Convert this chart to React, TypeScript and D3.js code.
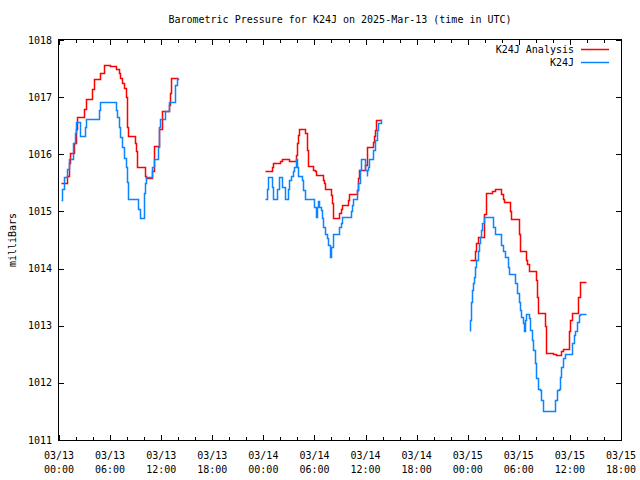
import React from "react";
import * as d3 from "d3";

const title = "Barometric Pressure for K24J on 2025-Mar-13 (time in UTC)";
const yAxisLabel = "milliBars";
const seriesNames = ["K24J Analysis", "K24J"];
const seriesColors = ["#ff0000", "#0a84ff"];
const startTime = "2025-03-13T00:00:00Z";
const endTime = "2025-03-15T18:00:00Z";
const yTicks = [1011, 1012, 1013, 1014, 1015, 1016, 1017, 1018];

// [hours since 03/13 00:00 UTC, millibars]
const analysisSeg1: [number, number][] = [
  [0.25, 1015.49], [0.96, 1015.62], [1.15, 1015.85], [1.27, 1016.03], [1.74, 1016.2],
  [1.95, 1016.45], [2.13, 1016.65], [2.91, 1016.8], [3.18, 1016.96], [3.89, 1017.14],
  [4.16, 1017.31], [4.87, 1017.42], [5.26, 1017.56], [6.0, 1017.54], [6.75, 1017.49],
  [7.03, 1017.42], [7.22, 1017.33], [7.42, 1017.24], [7.62, 1017.16], [7.81, 1017.1],
  [7.92, 1017.01], [7.99, 1016.48], [8.07, 1016.32], [8.97, 1016.2], [9.05, 1016.05],
  [9.16, 1015.77], [10.06, 1015.62], [10.26, 1015.59], [10.92, 1015.7], [11.1, 1016.15],
  [11.78, 1016.45], [12.05, 1016.76], [12.88, 1016.86], [13.05, 1017.07], [13.19, 1017.34],
  [13.93, 1017.34],
];
const analysisSeg2: [number, number][] = [
  [24.21, 1015.7], [24.99, 1015.78], [25.18, 1015.84], [25.97, 1015.88], [26.16, 1015.91],
  [27.06, 1015.89], [27.84, 1015.99], [27.92, 1016.19], [28.12, 1016.34], [28.23, 1016.45],
  [28.9, 1016.37], [29.1, 1016.19], [29.17, 1016.08], [29.29, 1015.8], [29.87, 1015.73],
  [30.07, 1015.7], [30.19, 1015.64], [30.97, 1015.55], [31.13, 1015.49], [31.24, 1015.4],
  [31.91, 1015.29], [32.03, 1015.14], [32.15, 1014.88], [32.92, 1014.97], [33.08, 1015.04],
  [33.27, 1015.11], [33.9, 1015.2], [34.09, 1015.3], [34.96, 1015.38], [35.15, 1015.58],
  [35.27, 1015.73], [35.93, 1015.81], [36.13, 1016.12], [36.84, 1016.22], [36.99, 1016.32],
  [37.1, 1016.43], [37.22, 1016.6], [37.81, 1016.6],
];
const analysisSeg3: [number, number][] = [
  [48.24, 1014.15], [48.83, 1014.3], [49.0, 1014.45], [49.22, 1014.55], [49.92, 1014.95],
  [50.2, 1015.32], [50.86, 1015.36], [51.17, 1015.39], [51.88, 1015.3], [52.15, 1015.22],
  [52.26, 1015.16], [52.93, 1015.0], [53.13, 1014.86], [53.99, 1014.6], [54.19, 1014.3],
  [54.81, 1014.15], [55.0, 1014.08], [55.16, 1013.96], [55.98, 1013.8], [56.1, 1013.5],
  [56.25, 1013.23], [57.03, 1013.0], [57.15, 1012.7], [57.23, 1012.52], [58.01, 1012.51],
  [58.4, 1012.49], [58.99, 1012.55], [59.18, 1012.6], [59.89, 1012.9], [60.05, 1013.1],
  [60.28, 1013.23], [60.94, 1013.5], [61.14, 1013.76], [61.92, 1013.76],
];

const stationSeg1: [number, number][] = [
  [0.25, 1015.2], [0.37, 1015.4], [0.56, 1015.61], [0.96, 1015.75], [1.15, 1015.92],
  [1.62, 1016.2], [1.85, 1016.38], [2.05, 1016.56], [2.44, 1016.32], [3.03, 1016.48],
  [3.18, 1016.61], [4.67, 1016.78], [4.87, 1016.92], [6.75, 1016.78], [6.83, 1016.66],
  [7.03, 1016.48], [7.22, 1016.31], [7.42, 1016.13], [7.62, 1015.93], [7.81, 1015.78],
  [7.99, 1015.52], [8.07, 1015.21], [9.24, 1015.05], [9.48, 1014.89], [9.95, 1015.14],
  [10.02, 1015.32], [10.14, 1015.49], [10.26, 1015.61], [10.92, 1015.78], [11.2, 1015.91],
  [11.58, 1016.13], [11.7, 1016.48], [11.9, 1016.61], [12.48, 1016.75], [12.88, 1016.92],
  [13.58, 1017.13], [13.66, 1017.22], [13.86, 1017.31], [13.93, 1017.33],
];
const stationSeg2: [number, number][] = [
  [24.21, 1015.21], [24.4, 1015.4], [24.6, 1015.61], [24.99, 1015.43], [25.18, 1015.21],
  [25.58, 1015.4], [25.89, 1015.61], [26.24, 1015.43], [26.55, 1015.21], [26.94, 1015.4],
  [27.06, 1015.55], [27.22, 1015.62], [27.53, 1015.7], [27.65, 1015.78], [27.84, 1015.91],
  [27.92, 1015.78], [28.12, 1015.62], [28.58, 1015.55], [28.7, 1015.38], [28.9, 1015.21],
  [29.95, 1015.08], [30.19, 1014.9], [30.27, 1015.08], [30.39, 1015.18], [30.58, 1015.08],
  [30.74, 1015.03], [30.86, 1014.88], [31.05, 1014.73], [31.24, 1014.61], [31.52, 1014.53],
  [31.63, 1014.41], [31.83, 1014.21], [31.91, 1014.38], [32.15, 1014.6], [32.92, 1014.73],
  [33.08, 1014.79], [33.27, 1014.9], [34.29, 1015.0], [34.45, 1015.11], [34.56, 1015.21],
  [35.03, 1015.38], [35.15, 1015.5], [35.35, 1015.73], [35.46, 1015.91], [35.93, 1015.73],
  [36.13, 1015.62], [36.21, 1015.73], [36.33, 1015.78], [36.45, 1015.91], [36.91, 1016.08],
  [37.1, 1016.25], [37.3, 1016.43], [37.49, 1016.54], [37.81, 1016.61],
];
const stationSeg3: [number, number][] = [
  [48.24, 1012.9], [48.32, 1013.1], [48.44, 1013.42], [48.55, 1013.63], [48.63, 1013.74],
  [48.75, 1013.86], [48.91, 1014.03], [49.02, 1014.15], [49.22, 1014.3], [49.34, 1014.44],
  [49.49, 1014.56], [49.61, 1014.68], [49.73, 1014.79], [49.92, 1014.9], [50.98, 1014.72],
  [51.17, 1014.61], [51.95, 1014.41], [52.15, 1014.3], [52.34, 1014.2], [52.73, 1014.03],
  [52.85, 1013.9], [53.6, 1013.74], [53.79, 1013.57], [53.99, 1013.42], [54.1, 1013.28],
  [54.3, 1013.16], [54.49, 1013.04], [54.61, 1012.9], [54.69, 1013.1], [54.81, 1013.21],
  [55.2, 1013.13], [55.35, 1012.93], [55.55, 1012.75], [55.67, 1012.58], [55.86, 1012.34],
  [56.06, 1012.08], [56.25, 1011.9], [56.53, 1011.88], [56.64, 1011.7], [56.84, 1011.51],
  [58.28, 1011.7], [58.48, 1011.88], [58.68, 1011.9], [58.79, 1012.11], [59.0, 1012.28],
  [59.18, 1012.43], [59.38, 1012.51], [60.24, 1012.69], [60.43, 1012.84], [60.63, 1012.9],
  [60.82, 1013.07], [61.02, 1013.18], [61.14, 1013.21], [61.92, 1013.21],
];

const analysisSegments = [analysisSeg1, analysisSeg2, analysisSeg3];
const stationSegments = [stationSeg1, stationSeg2, stationSeg3];

export default function App() {
  const W = 640;
  const H = 480;
  const left = 59, right = 621, top = 40, bottom = 440;
  const font = "'DejaVu Sans Mono', 'Liberation Mono', monospace";
  const t0 = new Date(startTime).getTime();
  const toDate = (h: number) => new Date(t0 + h * 3600 * 1000);

  const x = d3.scaleUtc().domain([new Date(startTime), new Date(endTime)]).range([left, right]);
  const y = d3.scaleLinear().domain([yTicks[0], yTicks[yTicks.length - 1]]).range([bottom, top]);

  const majorTicks = x.ticks(d3.utcHour.every(6)!);
  const minorTicks = x.ticks(d3.utcHour.every(2)!).filter((d) => d.getUTCHours() % 6 !== 0);
  const fmtDay = d3.utcFormat("%m/%d");
  const fmtTime = d3.utcFormat("%H:%M");

  const px = (v: number) => Math.round(v) + 0.5;

  const line = d3
    .line<[number, number]>()
    .x((d) => px(x(toDate(d[0]))))
    .y((d) => px(y(d[1])))
    .curve(d3.curveStepAfter);

  const groups = [analysisSegments, stationSegments];

  return (
    <svg
      width={W}
      height={H}
      style={{ position: "absolute", left: 0, top: 0, background: "#fff" }}
      fontFamily={font}
      fontSize={10}
    >
      <rect x={0} y={0} width={W} height={H} fill="#fff" />
      <text x={(left + right) / 2} y={23} textAnchor="middle" fill="#000">
        {title}
      </text>
      <text transform={`translate(15.5,${(top + bottom) / 2}) rotate(-90)`} textAnchor="middle" fill="#000">
        {yAxisLabel}
      </text>

      {/* y ticks */}
      {yTicks.map((v) => (
        <g key={"y" + v}>
          <line x1={left} x2={left + 5} y1={px(y(v))} y2={px(y(v))} stroke="#000" />
          <line x1={right - 5} x2={right} y1={px(y(v))} y2={px(y(v))} stroke="#000" />
          <text x={52} y={y(v) + 3.5} textAnchor="end" fill="#000">
            {v}
          </text>
        </g>
      ))}

      {/* x ticks */}
      {majorTicks.map((d, i) => (
        <g key={"xm" + i}>
          <line x1={px(x(d))} x2={px(x(d))} y1={bottom} y2={bottom - 5} stroke="#000" />
          <line x1={px(x(d))} x2={px(x(d))} y1={top} y2={top + 5} stroke="#000" />
          <text x={x(d)} y={459} textAnchor="middle" fill="#000">
            {fmtDay(d)}
          </text>
          <text x={x(d)} y={473} textAnchor="middle" fill="#000">
            {fmtTime(d)}
          </text>
        </g>
      ))}
      {minorTicks.map((d, i) => (
        <g key={"xn" + i}>
          <line x1={px(x(d))} x2={px(x(d))} y1={bottom} y2={bottom - 3} stroke="#000" />
          <line x1={px(x(d))} x2={px(x(d))} y1={top} y2={top + 3} stroke="#000" />
        </g>
      ))}

      {/* series */}
      {groups.map((segs, si) =>
        segs.map((seg, k) => (
          <path
            key={si + "-" + k}
            d={line(seg) ?? ""}
            fill="none"
            stroke={seriesColors[si]}
            strokeWidth={1.5}
            strokeLinejoin="miter"
          />
        ))
      )}

      {/* frame */}
      <rect
        x={left - 0.5}
        y={top - 0.5}
        width={right - left + 1}
        height={bottom - top + 1}
        fill="none"
        stroke="#000"
      />

      {/* legend */}
      {seriesNames.map((name, i) => (
        <g key={"lg" + i}>
          <text x={574} y={52.5 + i * 13} textAnchor="end" fill="#000">
            {name}
          </text>
          <line x1={581} x2={609} y1={49.5 + i * 13} y2={49.5 + i * 13} stroke={seriesColors[i]} strokeWidth={1.5} />
        </g>
      ))}
    </svg>
  );
}
